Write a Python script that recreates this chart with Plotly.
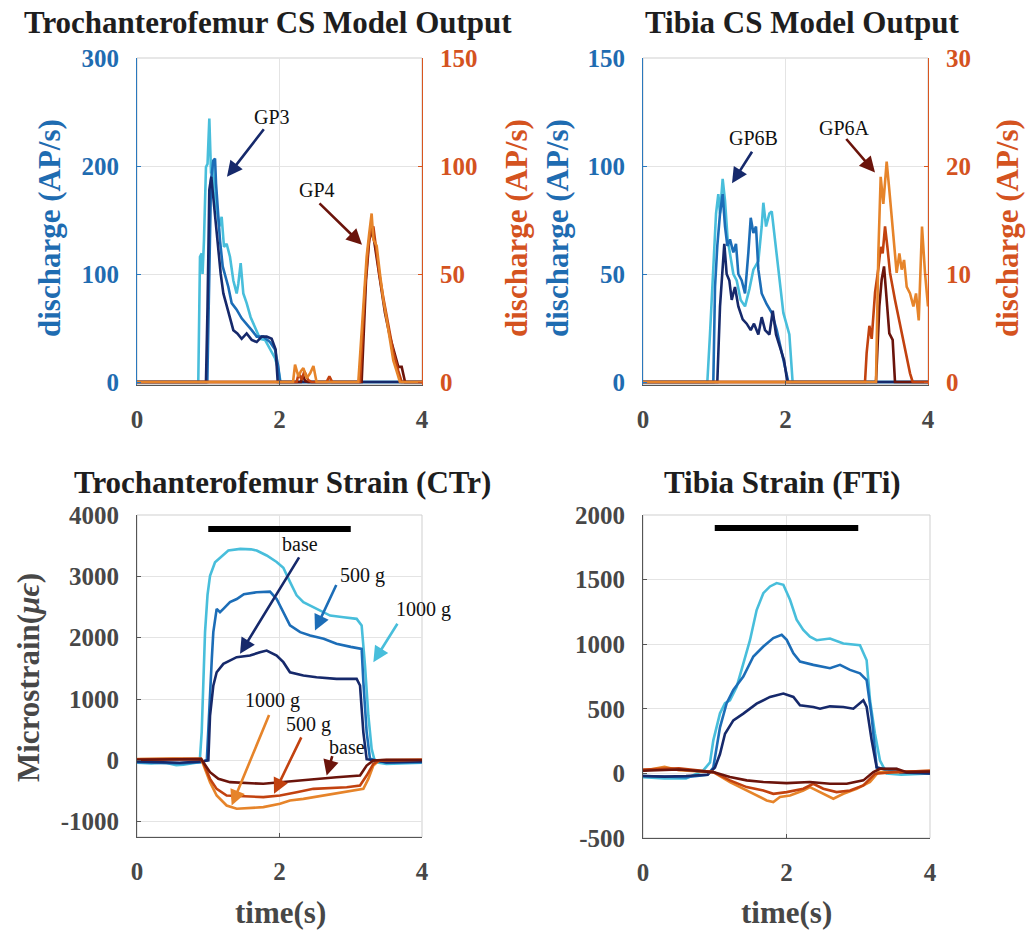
import plotly.graph_objects as go

# ---------------- data ----------------
# Top-left: Trochanterofemur CS model output (blue: GP3, left axis; orange: GP4, right axis)
tf_cs_t_base = [0, 0.968, 0.99, 1.015, 1.043, 1.071, 1.109, 1.142, 1.175, 1.212, 1.249, 1.296, 1.352, 1.408, 1.469, 1.539, 1.61, 1.68, 1.75, 1.82, 1.89, 1.946, 1.975, 4]
tf_cs_v_base = [0, 0, 70, 178, 190, 171, 144, 119, 100, 82, 73, 60, 48, 45, 40, 45, 39, 37, 42, 42, 40, 30, 0, 0]
tf_cs_t_500 = [0, 0.987, 1.015, 1.039, 1.071, 1.095, 1.109, 1.128, 1.165, 1.203, 1.235, 1.282, 1.329, 1.399, 1.469, 1.539, 1.61, 1.68, 1.773, 1.867, 1.937, 1.984, 2.007, 4]
tf_cs_v_500 = [0, 0, 100, 187, 205, 207, 184, 162, 131, 107, 100, 88, 73, 67, 59, 54, 48, 42, 42, 37, 30, 14, 0, 0]
tf_cs_t_1000 = [0, 0.86, 0.884, 0.908, 0.92, 0.94, 0.968, 0.99, 1.015, 1.039, 1.062, 1.095, 1.128, 1.156, 1.188, 1.221, 1.258, 1.305, 1.352, 1.399, 1.422, 1.455, 1.492, 1.539, 1.595, 1.656, 1.726, 1.797, 1.867, 1.937, 1.984, 2.016, 4]
tf_cs_v_1000 = [0, 0, 116, 119, 100, 131, 199, 202, 244, 193, 202, 171, 156, 144, 153, 125, 128, 116, 94, 82, 91, 110, 82, 73, 60, 51, 40, 39, 30, 22, 11, 0, 0]

tf_gp4_t_base = [0, 2.3, 2.33, 2.36, 2.4, 3.153, 3.214, 3.26, 3.307, 3.354, 3.41, 3.48, 3.55, 3.62, 3.668, 3.715, 3.762, 4]
tf_gp4_v_base = [0, 0, 3, 0.5, 0, 0, 47, 66, 70, 59, 46, 32, 21, 12, 7, 7, 0, 0]
tf_gp4_t_500 = [0, 2.24, 2.27, 2.31, 2.35, 2.4, 2.45, 2.66, 2.7, 2.74, 3.13, 3.2, 3.247, 3.279, 3.317, 3.354, 3.401, 3.457, 3.527, 3.597, 3.668, 3.715, 4]
tf_gp4_v_500 = [0, 0, 4, 1, 5, 1, 0, 0, 2.6, 0, 0, 43, 63, 70, 72, 63, 50, 39, 27, 14, 5, 0, 0]
tf_gp4_t_1000 = [0, 2.19, 2.218, 2.265, 2.3, 2.335, 2.382, 2.43, 2.476, 2.52, 3.106, 3.176, 3.223, 3.26, 3.293, 3.317, 3.364, 3.41, 3.457, 3.504, 3.55, 3.597, 3.644, 3.69, 4]
tf_gp4_v_1000 = [0, 0, 8, 2.6, 5, 6.4, 1.8, 4, 7.4, 0, 0, 35, 58, 69, 78, 66, 63, 50, 38, 29, 20, 10, 5, 0, 0]

# Top-right: Tibia CS model output (blue: GP6B, left axis; orange: GP6A, right axis)
ti_cs_t_base = [0, 1.043, 1.081, 1.118, 1.141, 1.174, 1.212, 1.245, 1.291, 1.338, 1.399, 1.455, 1.512, 1.558, 1.619, 1.666, 1.713, 1.774, 1.821, 1.867, 1.923, 1.98, 2.026, 4]
ti_cs_v_base = [0, 0, 35, 55, 64, 50, 47, 38, 44, 35, 29, 27, 24, 27, 22, 30, 24, 22, 33, 22, 16, 10, 0, 0]
ti_cs_t_500 = [0, 0.987, 1.011, 1.043, 1.081, 1.118, 1.151, 1.184, 1.221, 1.268, 1.305, 1.338, 1.385, 1.432, 1.479, 1.512, 1.549, 1.586, 1.619, 1.666, 1.736, 1.807, 1.877, 1.947, 2.007, 2.04, 4]
ti_cs_v_500 = [0, 0, 44, 63, 78, 87, 72, 63, 66, 60, 64, 50, 47, 41, 60, 76, 69, 72, 52, 41, 36, 32, 24, 13, 5, 0, 0]
ti_cs_t_1000 = [0, 0.903, 0.94, 0.987, 1.025, 1.057, 1.081, 1.118, 1.151, 1.188, 1.221, 1.268, 1.315, 1.371, 1.432, 1.493, 1.549, 1.619, 1.666, 1.689, 1.727, 1.774, 1.807, 1.853, 1.9, 1.97, 2.054, 2.1, 4]
ti_cs_v_1000 = [0, 0, 22, 50, 78, 87, 78, 94, 84, 66, 60, 50, 47, 38, 35, 43, 52, 56, 72, 83, 72, 78, 79, 66, 50, 32, 22, 0, 0]

ti_gp6a_t_base = [0, 3.27, 3.317, 3.35, 3.383, 3.42, 3.457, 3.504, 3.537, 4]
ti_gp6a_v_base = [0, 0, 7, 9.5, 10.7, 7.6, 4.5, 3.9, 0, 0]
ti_gp6a_t_500 = [0, 3.116, 3.139, 3.177, 3.21, 3.257, 3.303, 3.336, 3.364, 3.397, 3.43, 3.467, 3.537, 3.608, 3.678, 3.748, 3.785, 4]
ti_gp6a_v_500 = [0, 0, 2.7, 5.2, 4, 8.3, 10.5, 12.5, 11.9, 14.4, 12.5, 10.1, 7.6, 5.2, 3, 0.8, 0, 0]
ti_gp6a_t_1000 = [0, 3.27, 3.303, 3.336, 3.373, 3.42, 3.457, 3.504, 3.56, 3.598, 3.631, 3.664, 3.701, 3.748, 3.795, 3.832, 3.87, 3.916, 3.958, 4.0]
ti_gp6a_v_1000 = [0, 0, 11.9, 19, 16.5, 20.4, 17.8, 14.4, 10.1, 11.9, 10.4, 11.3, 8.8, 8.2, 7, 8.2, 5.7, 14.4, 10.1, 7]

# Bottom-left: Trochanterofemur strain (CTr), microstrain
ctr_t_b_base = [0, 0.3, 0.6, 0.9, 1.001, 1.025, 1.071, 1.118, 1.212, 1.399, 1.586, 1.726, 1.82, 1.96, 2.054, 2.147, 2.335, 2.52, 2.8, 3.083, 3.13, 3.177, 3.223, 3.5, 4]
ctr_v_b_base = [-20, -30, -40, -20, 0, 730, 1217, 1436, 1573, 1682, 1708, 1763, 1790, 1708, 1600, 1436, 1382, 1355, 1328, 1328, 1220, 457, 19, -30, -20]
ctr_t_b_500 = [0, 0.3, 0.6, 0.9, 0.98, 1.05, 1.071, 1.118, 1.165, 1.212, 1.305, 1.4, 1.5, 1.68, 1.867, 1.96, 2.054, 2.147, 2.29, 2.43, 2.62, 2.8, 3.0, 3.153, 3.177, 3.223, 3.27, 3.5, 4]
ctr_v_b_500 = [-30, -40, -50, -30, 0, 1654, 2090, 2470, 2415, 2470, 2580, 2630, 2710, 2740, 2750, 2630, 2415, 2200, 2090, 2036, 1982, 1900, 1850, 1817, 1280, 460, 25, -40, -30]
ctr_t_b_1000 = [0, 0.2, 0.4, 0.55, 0.65, 0.8, 0.88, 0.908, 0.955, 0.99, 1.025, 1.095, 1.212, 1.282, 1.45, 1.6, 1.68, 1.82, 1.96, 2.054, 2.147, 2.24, 2.335, 2.52, 2.71, 2.9, 3.083, 3.153, 3.2, 3.247, 3.293, 3.34, 3.5, 3.7, 4]
ctr_v_b_1000 = [-40, -50, -40, -80, -70, -50, -30, 460, 2090, 2700, 3010, 3230, 3340, 3420, 3448, 3440, 3420, 3340, 3235, 3140, 2910, 2690, 2580, 2470, 2360, 2334, 2307, 2200, 1546, 731, 188, -30, -60, -50, -40]
ctr_t_o_base = [0, 0.5, 0.9, 0.93, 1.025, 1.142, 1.305, 1.773, 2.007, 2.241, 2.52, 2.8, 3.13, 3.223, 3.317, 3.5, 4]
ctr_v_o_base = [10, 15, 20, -30, -193, -302, -356, -383, -356, -329, -302, -275, -248, -85, -3, 10, 5]
ctr_t_o_500 = [0, 0.5, 0.9, 0.93, 1.025, 1.118, 1.258, 1.773, 2.007, 2.241, 2.475, 2.943, 3.13, 3.223, 3.317, 3.4, 4]
ctr_v_o_500 = [15, 20, 25, -40, -302, -465, -574, -600, -574, -519, -465, -438, -411, -248, -57, 0, 10]
ctr_t_o_1000 = [0, 0.5, 0.9, 0.93, 1.025, 1.118, 1.258, 1.399, 1.773, 2.007, 2.147, 2.335, 2.616, 2.943, 3.177, 3.247, 3.317, 3.4, 4]
ctr_v_o_1000 = [20, 30, 25, -60, -356, -574, -737, -790, -763, -709, -655, -628, -574, -519, -465, -302, -85, 0, 10]

# Bottom-right: Tibia strain (FTi), microstrain
fti_t_b_base = [0, 0.3, 0.6, 0.9, 1.003, 1.073, 1.143, 1.259, 1.398, 1.584, 1.77, 1.956, 2.096, 2.188, 2.374, 2.467, 2.606, 2.792, 2.932, 3.024, 3.071, 3.117, 3.187, 3.257, 3.35, 3.536, 3.582, 4]
fti_v_b_base = [-20, -25, -20, -10, 46, 150, 307, 411, 463, 540, 592, 618, 592, 527, 514, 501, 519, 514, 501, 540, 566, 514, 256, 46, 33, 33, 8, 0]
fti_t_b_500 = [0, 0.3, 0.6, 0.9, 0.98, 1.073, 1.166, 1.259, 1.398, 1.538, 1.677, 1.816, 1.933, 2.003, 2.096, 2.188, 2.374, 2.606, 2.746, 2.885, 3.024, 3.117, 3.187, 3.257, 3.5, 4]
fti_v_b_500 = [-20, -25, -30, -10, 46, 357, 543, 646, 750, 905, 982, 1047, 1073, 1034, 930, 866, 840, 814, 840, 801, 775, 723, 439, 46, 20, 0]
fti_t_b_1000 = [0, 0.3, 0.6, 0.84, 0.934, 0.98, 1.073, 1.143, 1.212, 1.305, 1.398, 1.491, 1.584, 1.677, 1.77, 1.863, 1.956, 2.049, 2.141, 2.234, 2.327, 2.42, 2.606, 2.792, 3.024, 3.117, 3.164, 3.233, 3.303, 3.396, 3.6, 4]
fti_v_b_1000 = [-30, -40, -40, 23, 85, 256, 465, 543, 566, 669, 850, 1031, 1264, 1395, 1447, 1473, 1460, 1344, 1189, 1111, 1059, 1031, 1044, 1005, 992, 876, 566, 307, 100, 0, -10, 0]
fti_t_o_base = [0, 0.5, 0.98, 1.212, 1.445, 1.677, 2.003, 2.327, 2.606, 2.839, 3.071, 3.21, 3.303, 3.536, 3.675, 4]
fti_v_o_base = [20, 30, 10, -28, -54, -67, -75, -67, -80, -80, -54, 10, 36, 36, 10, 15]
fti_t_o_500 = [0, 0.5, 0.98, 1.212, 1.445, 1.677, 1.816, 2.003, 2.234, 2.374, 2.513, 2.699, 2.885, 3.071, 3.233, 3.5, 4]
fti_v_o_500 = [30, 40, 10, -54, -106, -132, -158, -145, -119, -80, -119, -145, -132, -93, -3, 10, 20]
fti_t_o_1000 = [0, 0.3, 0.5, 0.98, 1.212, 1.353, 1.538, 1.724, 1.816, 1.909, 2.049, 2.234, 2.327, 2.42, 2.56, 2.653, 2.792, 2.978, 3.164, 3.28, 3.536, 4]
fti_v_o_1000 = [20, 50, 25, 10, -67, -106, -158, -209, -222, -183, -171, -132, -106, -132, -171, -196, -158, -119, -67, 10, 10, 20]

# stimulus bars (time span and level)
bar_t = [1, 3]
bar_ctr_level = [3770, 3770]
bar_fti_level = [1900, 1900]

# ticks and tick labels
time_ticks = [0, 2, 4]
tf_left_ticks = [0, 100, 200, 300]
tf_right_ticks = [0, 50, 100, 150]
ti_left_ticks = [0, 50, 100, 150]
ti_right_ticks = [0, 10, 20, 30]
ctr_ticks = [-1000, 0, 1000, 2000, 3000, 4000]
ctr_tick_labels = ["-1000", "0", "1000", "2000", "3000", "4000"]
fti_ticks = [-500, 0, 500, 1000, 1500, 2000]
fti_tick_labels = ["-500", "0", "500", "1000", "1500", "2000"]

# ---------------- style ----------------
W, H = 1026, 930
def px(x):
    return x / W
def py(y):
    return 1 - y / H

FONT = "Liberation Serif"
C_NAVY = "#16296b"
C_MID = "#1c6db7"
C_LIGHT = "#48bedb"
C_BROWN = "#6b140b"
C_RED = "#c2420f"
C_ORANGE = "#e6842a"
AX_BLUE = "#2a78bd"
TX_BLUE = "#1f6cb1"
AX_ORANGE = "#d8561f"
TX_ORANGE = "#d4531f"
AX_GRAY = "#555555"
TX_GRAY = "#474747"
GRID = "#e4e4e4"
BOX = "#cfcfcf"
LW = 2.6

fig = go.Figure()

def line(t, v, color, xa, ya, width=LW):
    fig.add_trace(go.Scatter(x=t, y=v, mode="lines", xaxis=xa, yaxis=ya,
                             line=dict(color=color, width=width), showlegend=False,
                             hoverinfo="skip"))

# top-left
line(tf_cs_t_1000, tf_cs_v_1000, C_LIGHT, "x", "y")
line(tf_cs_t_500, tf_cs_v_500, C_MID, "x", "y")
line(tf_cs_t_base, tf_cs_v_base, C_NAVY, "x", "y")
line(tf_gp4_t_base, tf_gp4_v_base, C_BROWN, "x", "y2")
line(tf_gp4_t_500, tf_gp4_v_500, C_RED, "x", "y2")
line(tf_gp4_t_1000, tf_gp4_v_1000, C_ORANGE, "x", "y2")
# top-right
line(ti_cs_t_1000, ti_cs_v_1000, C_LIGHT, "x2", "y3")
line(ti_cs_t_500, ti_cs_v_500, C_MID, "x2", "y3")
line(ti_cs_t_base, ti_cs_v_base, C_NAVY, "x2", "y3")
line(ti_gp6a_t_base, ti_gp6a_v_base, C_BROWN, "x2", "y4")
line(ti_gp6a_t_500, ti_gp6a_v_500, C_RED, "x2", "y4")
line(ti_gp6a_t_1000, ti_gp6a_v_1000, C_ORANGE, "x2", "y4")
# bottom-left
line(ctr_t_b_1000, ctr_v_b_1000, C_LIGHT, "x3", "y5")
line(ctr_t_b_500, ctr_v_b_500, C_MID, "x3", "y5")
line(ctr_t_b_base, ctr_v_b_base, C_NAVY, "x3", "y5")
line(ctr_t_o_1000, ctr_v_o_1000, C_ORANGE, "x3", "y5")
line(ctr_t_o_500, ctr_v_o_500, C_RED, "x3", "y5")
line(ctr_t_o_base, ctr_v_o_base, C_BROWN, "x3", "y5")
line(bar_t, bar_ctr_level, "black", "x3", "y5", width=6)
# bottom-right
line(fti_t_b_1000, fti_v_b_1000, C_LIGHT, "x4", "y6")
line(fti_t_b_500, fti_v_b_500, C_MID, "x4", "y6")
line(fti_t_b_base, fti_v_b_base, C_NAVY, "x4", "y6")
line(fti_t_o_1000, fti_v_o_1000, C_ORANGE, "x4", "y6")
line(fti_t_o_500, fti_v_o_500, C_RED, "x4", "y6")
line(fti_t_o_base, fti_v_o_base, C_BROWN, "x4", "y6")
line(bar_t, bar_fti_level, "black", "x4", "y6", width=6)

TICKSIZE = 25

def xax(x0, x1, anchor):
    return dict(domain=[px(x0), px(x1)], anchor=anchor, range=[0, 4], tickvals=time_ticks,
                showgrid=True, gridcolor=GRID, gridwidth=1, zeroline=False,
                showline=True, linecolor=AX_GRAY, linewidth=1, ticks="inside", ticklen=4,
                tickcolor=AX_GRAY, ticklabelstandoff=12, automargin=False, fixedrange=True,
                tickfont=dict(family=FONT, size=TICKSIZE, color=TX_GRAY, weight="bold"))

def yax(y0, y1, rng, ticks, anchor, lcolor, tcolor, side="left", overlay=None, grid=True, labels=None):
    d = dict(domain=[py(y1), py(y0)], anchor=anchor, range=rng, tickvals=ticks,
             showgrid=grid, gridcolor=GRID, gridwidth=1, zeroline=False, side=side,
             showline=True, linecolor=lcolor, linewidth=1, ticks="inside", ticklen=4,
             tickcolor=lcolor, ticklabelstandoff=12, automargin=False, fixedrange=True,
             tickfont=dict(family=FONT, size=TICKSIZE, color=tcolor, weight="bold"))
    if labels is not None:
        d["ticktext"] = labels
    if overlay:
        d["overlaying"] = overlay
    return d

# top panels: tiny negative padding so the zero baselines are not clipped (0 stays at y=382 px)
TOPB = 384.7
fig.update_layout(
    width=W, height=H, margin=dict(l=0, r=0, t=0, b=0),
    paper_bgcolor="white", plot_bgcolor="white", showlegend=False,
    xaxis=xax(137, 422, "y"),
    yaxis=yax(58, TOPB, [-2.5, 300], tf_left_ticks, "x", AX_BLUE, TX_BLUE),
    yaxis2=yax(58, TOPB, [-1.25, 150], tf_right_ticks, "x", AX_ORANGE, TX_ORANGE, side="right", overlay="y", grid=False),
    xaxis2=xax(643, 928, "y3"),
    yaxis3=yax(58, TOPB, [-1.25, 150], ti_left_ticks, "x2", AX_BLUE, TX_BLUE),
    yaxis4=yax(58, TOPB, [-0.25, 30], ti_right_ticks, "x2", AX_ORANGE, TX_ORANGE, side="right", overlay="y3", grid=False),
    xaxis3=xax(137, 422, "y5"),
    yaxis5=yax(515, 837, [-1250, 4000], ctr_ticks, "x3", AX_GRAY, TX_GRAY, labels=ctr_tick_labels),
    xaxis4=xax(643, 930, "y6"),
    yaxis6=yax(515, 838, [-500, 2000], fti_ticks, "x4", AX_GRAY, TX_GRAY, labels=fti_tick_labels),
)

# light box around each panel
for (x0, x1, y0, y1) in [(137, 422, 58, TOPB), (643, 928, 58, TOPB), (137, 422, 515, 837), (643, 930, 515, 838)]:
    fig.add_shape(type="rect", xref="paper", yref="paper", x0=px(x0), x1=px(x1), y0=py(y1), y1=py(y0),
                  line=dict(color=BOX, width=1), fillcolor="rgba(0,0,0,0)", layer="below")

ann = []

def ptext(text, x, y, size, color, angle=0, bold=True):
    ann.append(dict(text=text, x=px(x), y=py(y), xref="paper", yref="paper", showarrow=False,
                    xanchor="center", yanchor="middle", textangle=angle,
                    font=dict(family=FONT, size=size, color=color, weight="bold" if bold else "normal")))

TITLE = 31
AXT = 31
ptext("Trochanterofemur CS Model Output", 268, 22, TITLE, "#1e1e1e")
ptext("Tibia CS Model Output", 802, 22, TITLE, "#1e1e1e")
ptext("Trochanterofemur Strain (CTr)", 282, 482, TITLE, "#1e1e1e")
ptext("Tibia Strain (FTi)", 782, 482, TITLE, "#1e1e1e")
ptext("discharge (AP/s)", 50, 228, AXT, TX_BLUE, angle=-90)
ptext("discharge (AP/s)", 517, 228, AXT, TX_ORANGE, angle=-90)
ptext("discharge (AP/s)", 558, 228, AXT, TX_BLUE, angle=-90)
ptext("discharge (AP/s)", 1008, 228, AXT, TX_ORANGE, angle=-90)
ptext("Microstrain(<i>μϵ</i>)", 28, 678, AXT, TX_GRAY, angle=-90)
ptext("time(s)", 280, 912, AXT, TX_GRAY)
ptext("time(s)", 786, 912, AXT, TX_GRAY)
# label hanging outside the right edge of the CTr panel
ptext("1000 g", 423, 609, 20, "#111111", bold=False)

def arrow(xr, yr, x, y, ax, ay, color):
    ann.append(dict(text="", x=x, y=y, xref=xr, yref=yr, ax=ax, ay=ay, showarrow=True,
                    arrowhead=2, arrowsize=1.2, arrowwidth=2.6, arrowcolor=color, standoff=0))

def dtext(xr, yr, x, y, text):
    ann.append(dict(text=text, x=x, y=y, xref=xr, yref=yr, showarrow=False,
                    xanchor="center", yanchor="middle",
                    font=dict(family=FONT, size=20, color="#111111")))

# top-left
arrow("x", "y", 1.263, 190, 38, -49, C_NAVY)
dtext("x", "y", 1.895, 245, "GP3")
arrow("x", "y", 3.158, 127, -44, -43, C_BROWN)
dtext("x", "y", 2.526, 178, "GP4")
# top-right
arrow("x2", "y3", 1.249, 92, 21, -33, C_NAVY)
dtext("x2", "y3", 1.544, 113, "GP6B")
arrow("x2", "y3", 3.256, 97, -30, -35, C_BROWN)
dtext("x2", "y3", 2.835, 117.6, "GP6A")
# bottom-left
arrow("x3", "y5", 1.446, 1736, 60, -98, C_NAVY)
dtext("x3", "y5", 2.288, 3529, "base")
arrow("x3", "y5", 2.498, 2116, 22, -47, C_MID)
dtext("x3", "y5", 3.158, 3006, "500 g")
arrow("x3", "y5", 3.317, 1600, 25, -40, C_LIGHT)
arrow("x3", "y5", 1.329, -737, 38, -92, C_ORANGE)
dtext("x3", "y5", 1.895, 970, "1000 g")
arrow("x3", "y5", 1.923, -546, 28, -58, C_RED)
dtext("x3", "y5", 2.4, 579, "500 g")
arrow("x3", "y5", 2.662, -248, 6, -21, C_BROWN)
dtext("x3", "y5", 2.947, 220, "base")

fig.update_layout(annotations=ann)
fig.write_html("out.html")
